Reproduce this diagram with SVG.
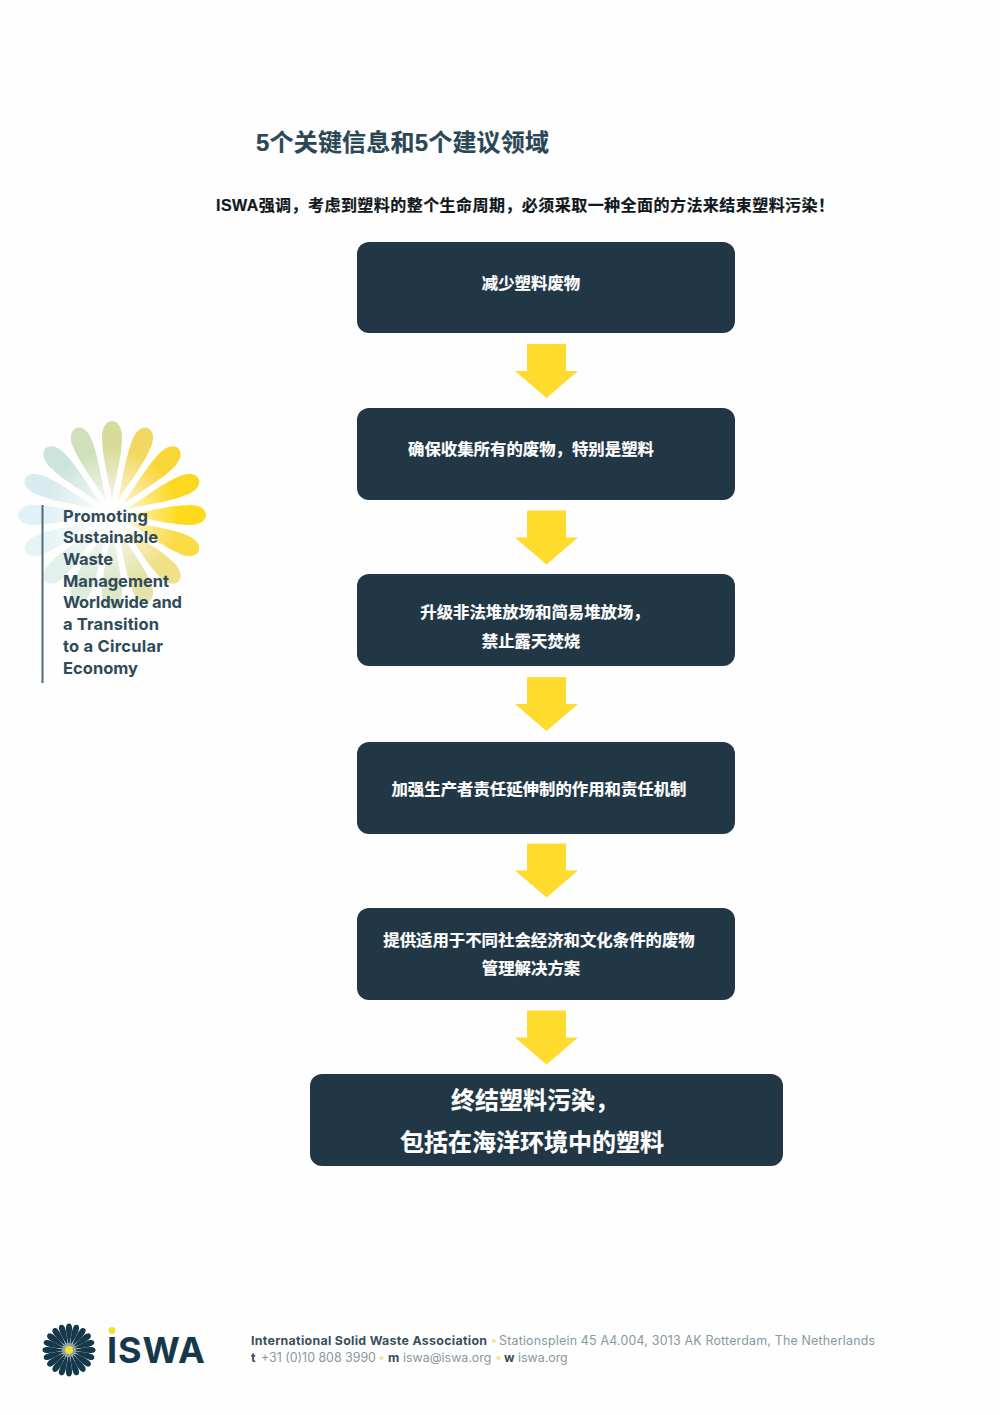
<svg xmlns="http://www.w3.org/2000/svg" width="1000" height="1415" viewBox="0 0 1000 1415">
<style>
.box{fill:#213746}
.arrow{fill:#FEDB2D}
.zh{font-family:"Liberation Sans","Noto Sans CJK SC",sans-serif;font-weight:700;stroke-width:.2px}
.t{fill:#fff;stroke:#fff;font-size:16.4px}
.big{fill:#fff;stroke:#fff;font-size:24px}
.tag{font-family:Inter,"Open Sans",sans-serif;font-weight:700;font-size:16.5px;fill:#2f4a58}
.foot{font-family:Inter,"Liberation Sans",sans-serif;font-size:12.4px;fill:#8a979f}
.b{font-weight:700;fill:#3a4f5b}
.y{fill:#f3e58a}
</style>
<defs>
<path id="petal" d="M0,-16C-3,-34 -10,-58 -10,-79C-9.500,-89 -5,-94 0,-94C5,-94 9.500,-89 10,-79C10,-58 3,-34 0,-16Z"/>
<path id="mini" d="M0,-3.500C-1.600,-11 -3.400,-18 -3,-23C-2.700,-25.500 -1.400,-26.500 0,-26.500C1.400,-26.500 2.700,-25.500 3,-23C3.400,-18 1.600,-11 0,-3.500Z"/>
<path id="arr" d="M-19.500,0H19.500V27H31.500L0,54L-31.500,27H-19.500Z"/>
<radialGradient id="fade" gradientUnits="userSpaceOnUse" cx="0" cy="0" r="95">
<stop offset=".2" stop-color="#fefefe" stop-opacity=".7"/>
<stop offset=".7" stop-color="#fefefe" stop-opacity="0"/>
</radialGradient>
</defs>
<rect width="1000" height="1415" fill="#fefefe"/>
<text class="zh" x="256" y="151" font-size="24" fill="#2b4756" stroke="#2b4756" textLength="293">5个关键信息和5个建议领域</text>
<text class="zh" x="216" y="211" font-size="16" fill="#10181d" stroke="#10181d" textLength="618">ISWA强调，考虑到塑料的整个生命周期，必须采取一种全面的方法来结束塑料污染！</text>
<g id="connectors">
<use href="#arr" class="arrow" x="546.500" y="344"/>
<use href="#arr" class="arrow" x="546.500" y="510.500"/>
<use href="#arr" class="arrow" x="546.500" y="677"/>
<use href="#arr" class="arrow" x="546.500" y="843.500"/>
<use href="#arr" class="arrow" x="546.500" y="1010.500"/>
</g>
<g id="node1"><rect class="box" x="357" y="242" width="378" height="91" rx="12"/><text class="zh t" x="531" y="289" text-anchor="middle">减少塑料废物</text></g>
<g id="node2"><rect class="box" x="357" y="408" width="378" height="92" rx="12"/><text class="zh t" x="531" y="455" text-anchor="middle">确保收集所有的废物，特别是塑料</text></g>
<g id="node3"><rect class="box" x="357" y="574" width="378" height="92" rx="12"/><text class="zh t" x="535" y="618" text-anchor="middle">升级非法堆放场和简易堆放场，</text><text class="zh t" x="531" y="647" text-anchor="middle">禁止露天焚烧</text></g>
<g id="node4"><rect class="box" x="357" y="742" width="378" height="92" rx="12"/><text class="zh t" x="539" y="795" text-anchor="middle">加强生产者责任延伸制的作用和责任机制</text></g>
<g id="node5"><rect class="box" x="357" y="908" width="378" height="92" rx="12"/><text class="zh t" x="539" y="946" text-anchor="middle">提供适用于不同社会经济和文化条件的废物</text><text class="zh t" x="531" y="974" text-anchor="middle">管理解决方案</text></g>
<g id="node6"><rect class="box" x="310" y="1074" width="473" height="92" rx="12"/><text class="zh big" x="535" y="1108.500" text-anchor="middle">终结塑料污染，</text><text class="zh big" x="532" y="1150.500" text-anchor="middle">包括在海洋环境中的塑料</text></g>
<g id="tagline">
<g transform="translate(112 515)">
<use href="#petal" fill="#D8DC9A"/>
<use href="#petal" transform="rotate(22.500)" fill="#F2D860"/>
<use href="#petal" transform="rotate(45)" fill="#F8D638"/>
<use href="#petal" transform="rotate(67.500)" fill="#FCD820"/>
<use href="#petal" transform="rotate(90)" fill="#FFDA1C"/>
<use href="#petal" transform="rotate(112.500)" fill="#FADC48"/>
<use href="#petal" transform="rotate(135)" fill="#F0E088"/>
<use href="#petal" transform="rotate(157.500)" fill="#E4E4A8"/>
<use href="#petal" transform="rotate(180)" fill="#DCE8C8"/>
<use href="#petal" transform="rotate(202.500)" fill="#DCEDDC"/>
<use href="#petal" transform="rotate(225)" fill="#E2F1EC"/>
<use href="#petal" transform="rotate(247.500)" fill="#E6F4F6"/>
<use href="#petal" transform="rotate(270)" fill="#E0F1F7"/>
<use href="#petal" transform="rotate(292.500)" fill="#D8ECF0"/>
<use href="#petal" transform="rotate(315)" fill="#CBE5DC"/>
<use href="#petal" transform="rotate(337.500)" fill="#CFE0BA"/>
<circle r="95" fill="url(#fade)"/>
</g>
<rect x="41.500" y="505" width="2" height="178" fill="#4f6c78"/>
<text class="tag" x="63" y="521.500" textLength="85">Promoting</text>
<text class="tag" x="63" y="543" textLength="95">Sustainable</text>
<text class="tag" x="63" y="564.500" textLength="50">Waste</text>
<text class="tag" x="63" y="586.500" textLength="106">Management</text>
<text class="tag" x="63" y="608" textLength="119">Worldwide and</text>
<text class="tag" x="63" y="630" textLength="96">a Transition</text>
<text class="tag" x="63" y="651.500" textLength="100">to a Circular</text>
<text class="tag" x="63" y="673.500" textLength="75">Economy</text>
</g>
<g id="footer-logo">
<g transform="translate(69 1350)" fill="#15394a">
<use href="#mini"/><use href="#mini" transform="rotate(18)"/><use href="#mini" transform="rotate(36)"/><use href="#mini" transform="rotate(54)"/><use href="#mini" transform="rotate(72)"/><use href="#mini" transform="rotate(90)"/><use href="#mini" transform="rotate(108)"/><use href="#mini" transform="rotate(126)"/><use href="#mini" transform="rotate(144)"/><use href="#mini" transform="rotate(162)"/><use href="#mini" transform="rotate(180)"/><use href="#mini" transform="rotate(198)"/><use href="#mini" transform="rotate(216)"/><use href="#mini" transform="rotate(234)"/><use href="#mini" transform="rotate(252)"/><use href="#mini" transform="rotate(270)"/><use href="#mini" transform="rotate(288)"/><use href="#mini" transform="rotate(306)"/><use href="#mini" transform="rotate(324)"/><use href="#mini" transform="rotate(342)"/>
<circle r="7" fill="#8fa3a8"/>
<circle r="4" fill="#F2DF2E"/>
</g>
<circle cx="112" cy="1330.500" r="3.500" fill="#F2DF2E"/>
<text x="107" y="1363" font-family="Inter,'Liberation Sans',sans-serif" font-weight="700" font-size="36" fill="#15394a" textLength="98">ISWA</text>
</g>
<g id="footer-text" class="foot">
<text x="251" y="1345" class="b" textLength="236">International Solid Waste Association</text>
<text x="490.500" y="1345" class="y">•</text>
<text x="499" y="1345" textLength="376">Stationsplein 45 A4.004, 3013 AK Rotterdam, The Netherlands</text>
<text x="251" y="1362"><tspan class="b">t</tspan><tspan x="261">+31 (0)10 808 3990</tspan><tspan class="y" x="378">•</tspan><tspan class="b" x="388">m</tspan><tspan x="403">iswa@iswa.org</tspan><tspan class="y" x="495">•</tspan><tspan class="b" x="504">w</tspan><tspan x="518">iswa.org</tspan></text>
</g>
</svg>
